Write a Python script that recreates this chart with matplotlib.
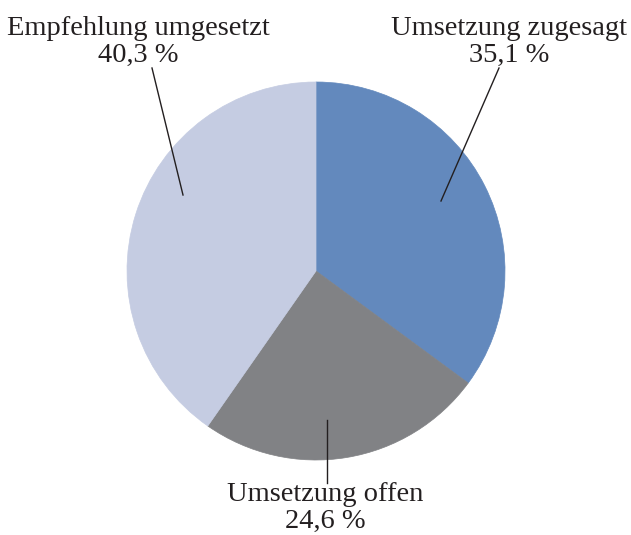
import matplotlib
matplotlib.use("Agg")
import matplotlib.pyplot as plt

labels = ["Umsetzung zugesagt", "Umsetzung offen", "Empfehlung umgesetzt"]
values = [35.1, 24.6, 40.3]
colors = ["#6389bd", "#818285", "#c5cce2"]

W, H = 631, 535
fig = plt.figure(figsize=(W / 100, H / 100), dpi=100)
ax = fig.add_axes([0, 0, 1, 1])

cx, cy, r = 316, H - 271, 189
wedges, _ = ax.pie(values, colors=colors, startangle=90, counterclock=False,
                   center=(cx, cy), radius=r, wedgeprops=dict(linewidth=0.5))
for w in wedges:
    w.set_edgecolor(w.get_facecolor())

ax.set_xlim(0, W)
ax.set_ylim(0, H)
ax.set_aspect("equal")
ax.axis("off")

ink = "#231f20"
font = dict(family="Liberation Serif", size=20.5, color=ink, ha="center", va="center")

# label text position (px), leader start (inside slice), leader end (near label)
layout = [
    ((509, 29), (441, 201), (499, 68)),
    ((325, 495), (327, 420), (327, 483)),
    ((138, 29), (183, 195), (152, 68)),
]

for lab, val, (tp, p0, p1) in zip(labels, values, layout):
    txt = f"{lab}\n{val:.1f} %".replace(".", ",")
    ax.text(tp[0], H - tp[1] - 13, txt, linespacing=1.07, **font)
    ax.plot([p0[0], p1[0]], [H - p0[1], H - p1[1]], color=ink, lw=1.0)

fig.savefig("out.png", dpi=100)
